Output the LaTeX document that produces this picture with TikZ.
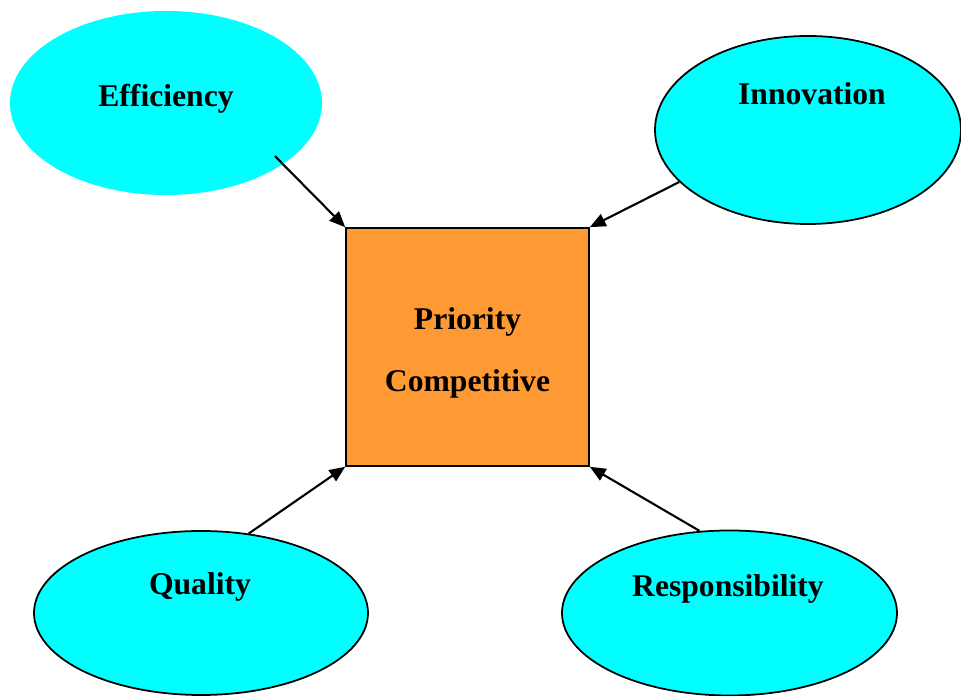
\documentclass[tikz,border=0pt]{standalone}
\usepackage{fontspec}
\setmainfont{Liberation Serif}
\usetikzlibrary{positioning, arrows.meta, calc, shapes.geometric}
\definecolor{ovalcyan}{RGB}{0,255,255}
\definecolor{coreorange}{RGB}{255,153,51}

\begin{document}
\begin{tikzpicture}[
  >={Triangle[length=9pt, width=7.5pt]},
  every node/.style={font=\bfseries\fontsize{18}{22}\selectfont},
  oval/.style = {ellipse, fill=ovalcyan, draw=black, line width=1pt, inner sep=0pt},
  core/.style = {rectangle, fill=coreorange, draw=black, line width=0.9pt, minimum width=4.86cm, minimum height=4.76cm},
  word/.style = {anchor=base, inner sep=0pt},
  arr/.style  = {->, line width=1.2pt},
]
  \useasboundingbox (0,0) rectangle (19.22,13.92);

  % the four drivers round the centre box
  \node[oval, draw=none, minimum width=6.24cm, minimum height=3.68cm] (eff)  at (3.32,11.86) {};
  \node[oval, minimum width=6.12cm, minimum height=3.76cm]            (inn)  at (16.16,11.32) {};
  \node[oval, minimum width=6.68cm, minimum height=3.28cm]            (qual) at (4.02,1.66) {};
  \node[oval, minimum width=6.70cm, minimum height=3.30cm]            (resp) at (14.59,1.66) {};

  \node[word] (effText)  at (3.32,11.78)  {Efficiency};
  \node[word] (innText)  at (16.24,11.82) {Innovation};
  \node[word] (qualText) at (4.00,2.02)   {Quality};
  \node[word] (respText) at (14.56,1.98)  {Responsibility};

  \node[core] (prio) at (9.35,6.98) {};
  \node[align=center, inner sep=0pt, font=\bfseries\fontsize{18}{35}\selectfont]
    (prioText) at (9.35,6.86) {Priority\\Competitive};

  \coordinate (effOut) at ($(eff.center)!0.9!(eff.-26)$);
  \draw[arr] (effOut)   -- (prio.north west);
  \draw[arr] (inn.202)  -- (prio.north east);
  \draw[arr] (qual.59)  -- (prio.south west);
  \draw[arr] (resp.110) -- (prio.south east);
\end{tikzpicture}
\end{document}
